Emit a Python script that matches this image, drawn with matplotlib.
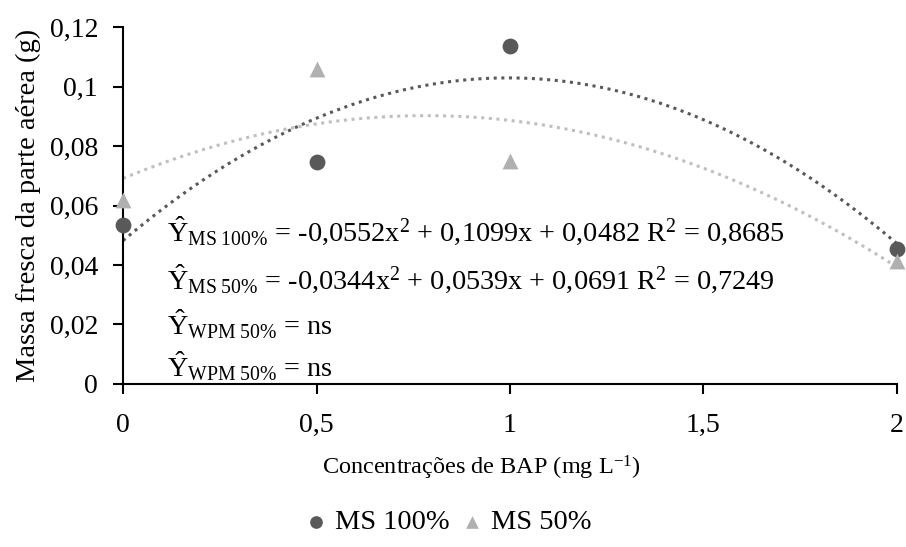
import matplotlib
matplotlib.use("Agg")
import matplotlib.pyplot as plt
import numpy as np
from matplotlib.ticker import FuncFormatter, MultipleLocator

plt.rcParams['font.family'] = ['Liberation Serif', 'DejaVu Serif']
plt.rcParams['mathtext.fontset'] = 'custom'
plt.rcParams['mathtext.rm'] = 'Liberation Serif'
plt.rcParams['mathtext.it'] = 'Liberation Serif:italic'

x = [0, 0.5, 1, 2]
ms100 = [0.0535, 0.0745, 0.1137, 0.0455]
ms50 = [0.0617, 0.1060, 0.0748, 0.0415]
coef100 = [-0.0552, 0.1099, 0.0482]
coef50 = [-0.0344, 0.0539, 0.0691]
series_labels = ["MS 100%", "MS 50%"]

fig = plt.figure(figsize=(9.06, 5.47), dpi=100)
ax = fig.add_axes([0.1358, 0.298, 0.8542, 0.6526])

xs = np.linspace(0, 2, 200)
ax.plot(xs, np.polyval(coef100, xs), color='#595959', ls=(0, (1, 1.5)), lw=2.2, zorder=2)
ax.plot(xs, np.polyval(coef50, xs), color='#bfbfbf', ls=(0, (1, 1.5)), lw=2.2, zorder=2)
ax.scatter(x, ms100, marker='o', s=130, color='#595959', zorder=3, label=series_labels[0], linewidths=0, clip_on=False)
ax.scatter(x, ms50, marker='^', s=130, color='#b0b0b0', zorder=3, label=series_labels[1], linewidths=0, clip_on=False)

ax.set_xlim(0, 2)
ax.set_ylim(0, 0.12)
ax.xaxis.set_major_locator(MultipleLocator(0.5))
ax.yaxis.set_major_locator(MultipleLocator(0.02))
fmt = FuncFormatter(lambda v, p: ('%g' % round(v, 4)).replace('.', ','))
ax.xaxis.set_major_formatter(fmt)
ax.yaxis.set_major_formatter(fmt)
for s in ['top', 'right']:
    ax.spines[s].set_visible(False)
for s in ['left', 'bottom']:
    ax.spines[s].set_linewidth(1.5)
ax.tick_params(axis='both', labelsize=20, width=1.5, length=7, direction='out')
ax.tick_params(axis='x', pad=14)
ax.tick_params(axis='y', pad=11)
ax.set_xlabel('Concentrações de BAP (mg L$^{\\mathregular{-1}}$)', fontsize=17.5)
ax.xaxis.set_label_coords(0.4625, -0.195)
ax.set_ylabel('Massa fresca da parte aérea (g)', fontsize=20.5, labelpad=6)

eqs = [
    r'$\hat{\mathrm{Y}}_{\mathrm{MS\ 100\%}}$ = -0,0552x$^{2}$ + 0,1099x + 0,0482 R$^{2}$ = 0,8685',
    r'$\hat{\mathrm{Y}}_{\mathrm{MS\ 50\%}}$ = -0,0344x$^{2}$ + 0,0539x + 0,0691 R$^{2}$ = 0,7249',
    r'$\hat{\mathrm{Y}}_{\mathrm{WPM\ 50\%}}$ = ns',
    r'$\hat{\mathrm{Y}}_{\mathrm{WPM\ 50\%}}$ = ns',
]
ypos = [0.0515, 0.0355, 0.0200, 0.0058]
for t, yy in zip(eqs, ypos):
    ax.text(0.113, yy, t, fontsize=20.3, va='center', ha='left')

leg = fig.legend(loc='center', bbox_to_anchor=(0.493, 0.045), ncol=2, frameon=False,
                 fontsize=20.5, handletextpad=0.15, columnspacing=0.3, handlelength=1.0, markerscale=0.8)

fig.savefig('out.png', dpi=100)
